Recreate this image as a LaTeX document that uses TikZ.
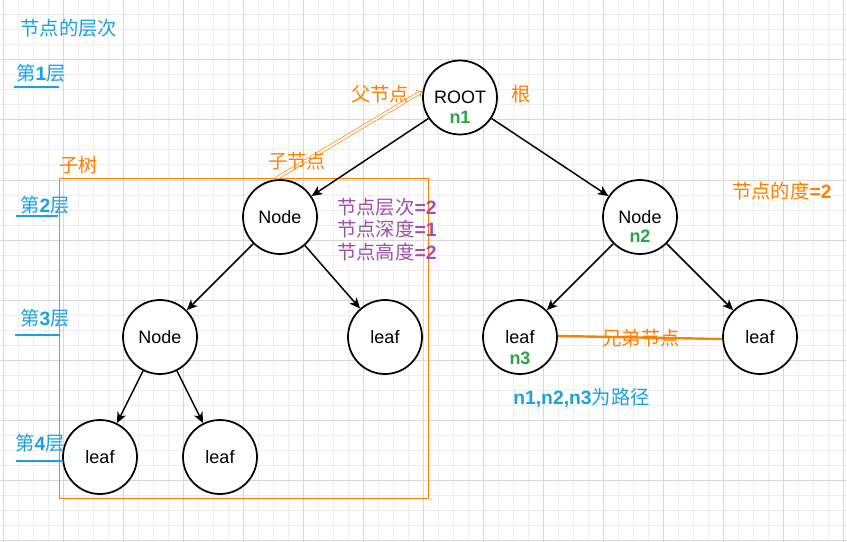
\documentclass[tikz,border=0pt]{standalone}
\usepackage{fontspec}
\setmainfont{Liberation Sans}
\newfontfamily\cjk{Noto Sans CJK SC}
\usetikzlibrary{arrows.meta}
\definecolor{gridmajor}{RGB}{216,216,216}
\definecolor{gridminor}{RGB}{238,238,238}
\definecolor{dblue}{RGB}{27,161,226}
\definecolor{dorange}{RGB}{255,128,0}
\definecolor{dgreen}{RGB}{40,166,69}
\definecolor{dpurple}{RGB}{160,80,172}
\newcommand\cj[1]{{\cjk #1}}
\begin{document}
\begin{tikzpicture}[x=0.75pt,y=-0.75pt,
  circ/.style={circle,draw=black,line width=1.3pt,minimum size=55.5pt,inner sep=0pt,fill=white,font=\fontsize{13.5}{16}\selectfont},
  edge/.style={line width=1.1pt,-{Stealth[length=8pt,width=7pt,inset=2.2pt]}},
  lbl/.style={inner sep=0pt,font=\fontsize{14.5}{17}\selectfont},
  sub/.style={inner sep=0pt,font=\fontsize{13.5}{16}\selectfont\bfseries,text=dgreen},
  uline/.style={dblue,line width=2.2pt},
  minorline/.style={gridminor,line width=0.75pt},
  majorline/.style={gridmajor,line width=0.75pt}]
\useasboundingbox (0,0) rectangle (847,542);
\fill[white] (0,0) rectangle (847,542);
% grid
\foreach \i in {0,...,56} \draw[minorline] ({3+15*\i},0) -- ({3+15*\i},542);
\foreach \j in {0,...,36} \draw[minorline] (0,{15*\j}) -- (847,{15*\j});
\foreach \i in {0,...,14} \draw[majorline] ({3+60*\i},0) -- ({3+60*\i},542);
\foreach \j in {0,...,9} \draw[majorline] (0,{60*\j}) -- (847,{60*\j});
% subtree box
\draw[dorange,line width=0.65pt] (59,178) rectangle (428,498);
% nodes
\node[circ] (root) at (460,97.5) {ROOT};
\node[circ] (a) at (280,217) {Node};
\node[circ] (b) at (640,217) {Node};
\node[circ] (a1) at (160,337) {Node};
\node[circ] (a2) at (385,337) {leaf};
\node[circ] (b1) at (520,337) {leaf};
\node[circ] (b2) at (760,337) {leaf};
\node[circ] (c1) at (100,457) {leaf};
\node[circ] (c2) at (220,457) {leaf};
\node[sub] (n1) at (460,117) {n1};
\node[sub] (n2) at (640,236) {n2};
\node[sub] (n3) at (520,358) {n3};
% edges
\draw[edge] (root) -- (a);
\draw[edge] (root) -- (b);
\draw[edge] (a) -- (a1);
\draw[edge] (a) -- (a2);
\draw[edge] (a1) -- (c1);
\draw[edge] (a1) -- (c2);
\draw[edge] (b) -- (b1);
\draw[edge] (b) -- (b2);
% parent arrow
\coordinate (pstart) at (277,178);
\draw[dorange,line width=0.5pt,double=white,double distance=1.6pt,-{Implies}] (pstart) -- (root.170);
% sibling line
\draw[dorange,line width=1.8pt] ([yshift=0.75pt]b1.east) -- ([yshift=-1.5pt]b2.west);
% labels
\node[lbl,text=dblue] (title) at (69,28) {\cj{节点的层次}};
\node[lbl,text=dblue] (l1) at (41,73) {\cj{第}\textbf{1}\cj{层}};
\draw[uline] (14,87) -- (59,87);
\node[lbl,text=dblue] (l2) at (45,205) {\cj{第}\textbf{2}\cj{层}};
\draw[uline] (16,216) -- (58,216);
\node[lbl,text=dblue] (l3) at (45,318) {\cj{第}\textbf{3}\cj{层}};
\draw[uline] (15,335) -- (60,335);
\node[lbl,text=dblue] (l4) at (40,443) {\cj{第}\textbf{4}\cj{层}};
\draw[uline] (16,461) -- (63,461);
\node[lbl,text=dorange] (zishu) at (79,165) {\cj{子树}};
\node[lbl,text=dorange] (fu) at (380,94) {\cj{父节点}};
\node[lbl,text=dorange] (gen) at (521,94) {\cj{根}};
\node[lbl,text=dorange] (zi) at (297,161) {\cj{子节点}};
\node[lbl,text=dpurple,anchor=west] (p1) at (337,207) {\cj{节点层次}\textbf{=2}};
\node[lbl,text=dpurple,anchor=west] (p2) at (337,229) {\cj{节点深度}\textbf{=1}};
\node[lbl,text=dpurple,anchor=west] (p3) at (337,252) {\cj{节点高度}\textbf{=2}};
\node[lbl,text=dorange,anchor=west] (deg) at (732,191) {\cj{节点的度}\textbf{=2}};
\node[lbl,text=dorange] (xd) at (641,338) {\cj{兄弟节点}};
\node[lbl,text=dblue,anchor=west] (path) at (513,398) {\textbf{n1,n2,n3}\cj{为路径}};
\end{tikzpicture}
\end{document}
